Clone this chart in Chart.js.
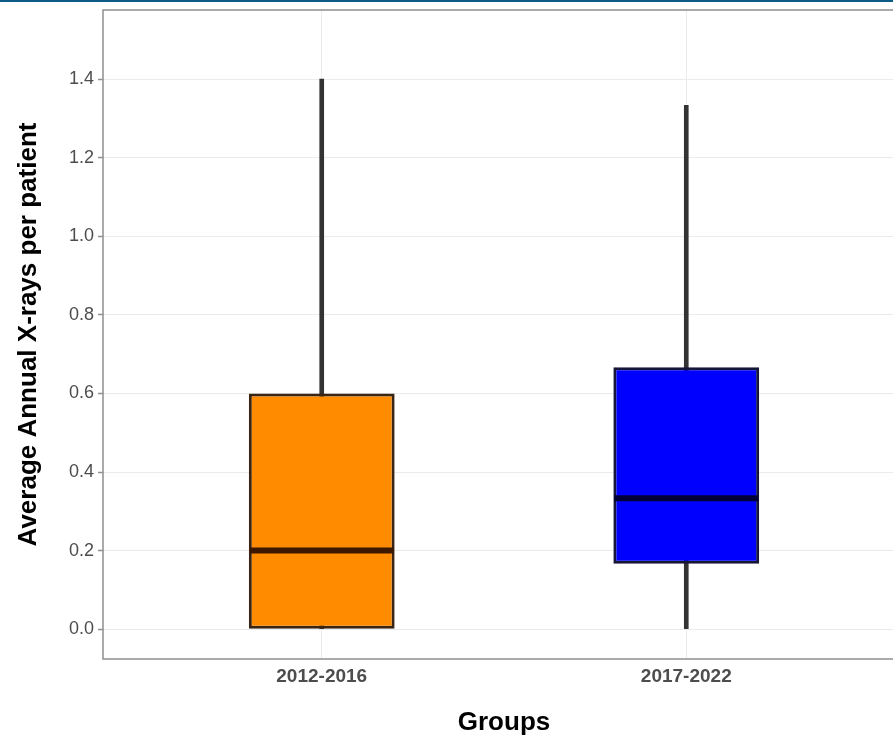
<!DOCTYPE html>
<html>
<head>
<meta charset="utf-8">
<title>Average Annual X-rays per patient by group</title>
<script src="https://cdn.jsdelivr.net/npm/chart.js@4.4.1/dist/chart.umd.min.js"></script>
<style>
  html, body { margin: 0; padding: 0; background: #ffffff; overflow: hidden; }
  #wrap { position: relative; width: 893px; height: 738px; overflow: hidden; }
  #topline { position: absolute; left: 0; top: 0; width: 100%; height: 2px; background: #0b5b85; z-index: 2; }
  #c { position: absolute; left: 0; top: 0; }
</style>
</head>
<body>
<div id="wrap">
  <div id="topline"></div>
  <canvas id="c" width="920" height="738"></canvas>
</div>
<script>
// Groups and their box-plot summaries
const groups = ['2012-2016', '2017-2022'];
const groupPos = [1, 2];
const whiskerLow = [0, 0];
const q1 = [0, 0.1667];
const median = [0.2, 0.3333];
const q3 = [0.6, 0.6667];
const whiskerHigh = [1.4, 1.3333];

const fillColors = ['#ff8c00', '#0000ff'];
const edgeColors = ['#3a2414', '#161638'];
const medianColors = ['#3d1800', '#000036'];

const yTicks = [0, 0.2, 0.4, 0.6, 0.8, 1.0, 1.2, 1.4];

const FONT = "'Liberation Sans', Arial, Helvetica, sans-serif";

// Median bars and the panel frame
const boxExtras = {
  id: 'boxExtras',
  afterDatasetsDraw(chart) {
    const ctx = chart.ctx;
    const y = chart.scales.y;
    const meta = chart.getDatasetMeta(1);
    const area = chart.chartArea;
    ctx.save();
    ctx.beginPath();
    ctx.rect(area.left, area.top, area.right - area.left, area.bottom - area.top);
    ctx.clip();
    meta.data.forEach((bar, i) => {
      const py = y.getPixelForValue(median[i]);
      const half = bar.width / 2;
      ctx.strokeStyle = medianColors[i];
      ctx.lineWidth = 6;
      ctx.lineCap = 'butt';
      ctx.beginPath();
      ctx.moveTo(bar.x - half + 1, py);
      ctx.lineTo(bar.x + half - 1, py);
      ctx.stroke();
    });
    ctx.restore();
  },
  afterDraw(chart) {
    const ctx = chart.ctx;
    const a = chart.chartArea;
    ctx.save();
    ctx.strokeStyle = '#8f8f8f';
    ctx.lineWidth = 1.5;
    ctx.strokeRect(a.left, a.top, a.right - a.left, a.bottom - a.top);
    ctx.restore();
  }
};

new Chart(document.getElementById('c'), {
  type: 'bar',
  data: {
    datasets: [
      {
        label: 'whiskers',
        data: groupPos.map((x, i) => ({ x: x, y: [whiskerLow[i], whiskerHigh[i]] })),
        backgroundColor: '#333333',
        borderWidth: 0,
        barThickness: 4,
        grouped: false,
        order: 2
      },
      {
        label: 'boxes',
        data: groupPos.map((x, i) => ({ x: x, y: [q1[i], q3[i]] })),
        backgroundColor: fillColors,
        borderColor: edgeColors,
        borderWidth: 3,
        borderSkipped: false,
        barPercentage: 0.4,
        categoryPercentage: 1,
        grouped: false,
        order: 1
      }
    ]
  },
  options: {
    responsive: false,
    animation: false,
    events: [],
    layout: { padding: { top: 10, right: 15, left: 0, bottom: 0 } },
    plugins: {
      legend: { display: false },
      tooltip: { enabled: false }
    },
    scales: {
      x: {
        type: 'linear',
        min: 0.4,
        max: 2.6,
        offset: false,
        afterBuildTicks: (s) => { s.ticks = groupPos.map(v => ({ value: v })); },
        afterFit: (s) => { s.height = 79; s.paddingLeft = 0; s.paddingRight = 0; },
        grid: { color: '#ebebeb', lineWidth: 1, drawTicks: false, offset: false },
        border: { display: false },
        ticks: {
          color: '#4d4d4d',
          padding: 6,
          maxRotation: 0,
          font: { family: FONT, size: 19, weight: 'bold' },
          callback: (v) => groups[groupPos.indexOf(v)] || ''
        },
        title: {
          display: true,
          text: 'Groups',
          color: '#000000',
          padding: { top: 0, bottom: 0 },
          font: { family: FONT, size: 26, weight: 'bold' }
        }
      },
      y: {
        min: -0.076,
        max: 1.576,
        afterBuildTicks: (s) => { s.ticks = yTicks.map(v => ({ value: v })); },
        afterFit: (s) => { s.width = 103; s.paddingTop = 0; s.paddingBottom = 0; },
        grid: { color: '#ebebeb', lineWidth: 1, tickLength: 5, tickColor: '#8f8f8f', tickWidth: 1.5 },
        border: { display: false },
        ticks: {
          color: '#4d4d4d',
          padding: 4,
          font: { family: FONT, size: 18 },
          callback: (v) => Number(v).toFixed(1)
        },
        title: {
          display: true,
          text: 'Average Annual X-rays per patient',
          color: '#000000',
          padding: { top: 13, bottom: 0 },
          font: { family: FONT, size: 26, weight: 'bold' }
        }
      }
    }
  },
  plugins: [boxExtras]
});
</script>
</body>
</html>
